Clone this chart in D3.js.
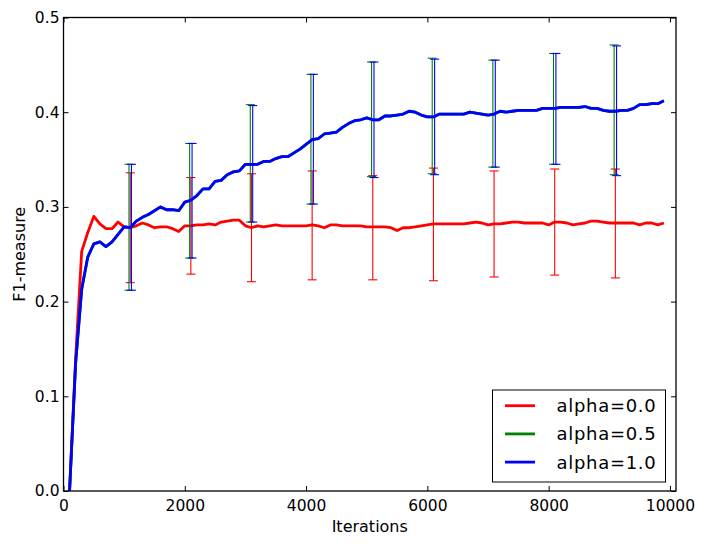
<!DOCTYPE html>
<html>
<head>
<meta charset="utf-8">
<script src="https://cdn.jsdelivr.net/npm/d3@7"></script>
<style>
  body { margin:0; background:#fff; }
  svg { display:block; font-family:"DejaVu Sans", sans-serif; }
</style>
</head>
<body>
<svg id="chart" width="706" height="546"></svg>
<script>
// sample grid: one point every 100 iterations
const iterations = d3.range(100, 10000, 100);

// mean F1 per iteration
const alpha00 = [
  0.000, 0.140, 0.253, 0.273, 0.290, 0.282, 0.277, 0.277, 0.284, 0.279,
  0.278, 0.280, 0.283, 0.281, 0.278, 0.279, 0.279, 0.277, 0.274, 0.280,
  0.280, 0.281, 0.281, 0.282, 0.281, 0.284, 0.285, 0.286, 0.286, 0.280,
  0.278, 0.280, 0.279, 0.280, 0.281, 0.280, 0.280, 0.280, 0.280, 0.280,
  0.281, 0.280, 0.278, 0.281, 0.281, 0.280, 0.280, 0.280, 0.280, 0.279,
  0.279, 0.279, 0.279, 0.278, 0.275, 0.278, 0.278, 0.279, 0.280, 0.281,
  0.282, 0.282, 0.282, 0.282, 0.282, 0.282, 0.283, 0.284, 0.283, 0.281,
  0.282, 0.282, 0.283, 0.284, 0.284, 0.283, 0.283, 0.283, 0.283, 0.281,
  0.284, 0.284, 0.283, 0.281, 0.282, 0.283, 0.285, 0.285, 0.284, 0.283,
  0.283, 0.283, 0.283, 0.283, 0.281, 0.283, 0.283, 0.281, 0.283
];
const alpha10 = [
  0.000, 0.135, 0.213, 0.247, 0.261, 0.263, 0.258, 0.263, 0.271, 0.279,
  0.278, 0.285, 0.289, 0.292, 0.296, 0.300, 0.297, 0.297, 0.296, 0.305,
  0.307, 0.312, 0.319, 0.319, 0.327, 0.328, 0.334, 0.337, 0.338, 0.345,
  0.345, 0.345, 0.348, 0.348, 0.351, 0.353, 0.353, 0.357, 0.361, 0.366,
  0.371, 0.372, 0.377, 0.378, 0.379, 0.384, 0.388, 0.391, 0.392, 0.394,
  0.392, 0.392, 0.396, 0.396, 0.397, 0.398, 0.401, 0.400, 0.397, 0.395,
  0.395, 0.398, 0.398, 0.398, 0.398, 0.398, 0.400, 0.399, 0.398, 0.397,
  0.398, 0.401, 0.400, 0.401, 0.402, 0.402, 0.402, 0.402, 0.404, 0.404,
  0.404, 0.405, 0.405, 0.405, 0.405, 0.406, 0.404, 0.404, 0.402, 0.401,
  0.401, 0.402, 0.402, 0.404, 0.408, 0.408, 0.409, 0.409, 0.412
];
// the green curve sits right under the blue one
const alpha05 = alpha10.slice();

// error bars, centred every 1000 iterations
const errIters = [1100, 2100, 3100, 4100, 5100, 6100, 7100, 8100, 9100];
const errLow00  = [0.220, 0.229, 0.221, 0.223, 0.223, 0.222, 0.226, 0.228, 0.225];
const errHigh00 = [0.336, 0.331, 0.335, 0.338, 0.333, 0.341, 0.338, 0.340, 0.340];
const errLow05  = [0.212, 0.246, 0.284, 0.303, 0.332, 0.335, 0.342, 0.345, 0.334];
const errHigh05 = [0.345, 0.367, 0.408, 0.440, 0.453, 0.457, 0.455, 0.462, 0.471];
const errLow10  = [0.212, 0.246, 0.284, 0.303, 0.331, 0.334, 0.342, 0.345, 0.333];
const errHigh10 = [0.345, 0.367, 0.407, 0.440, 0.453, 0.456, 0.455, 0.462, 0.470];

const xTicks = [0, 2000, 4000, 6000, 8000, 10000];
const yTicks = [0.0, 0.1, 0.2, 0.3, 0.4, 0.5];

const series = [
  { name:"alpha=0.0", color:"#ff0000", values:alpha00, lo:errLow00, hi:errHigh00, shift:0 },
  { name:"alpha=0.5", color:"#008000", values:alpha05, lo:errLow05, hi:errHigh05, shift:-20 },
  { name:"alpha=1.0", color:"#0000ff", values:alpha10, lo:errLow10, hi:errHigh10, shift:20 }
];

const L = 63.5, R = 676, T = 17.5, B = 491;

const x = d3.scaleLinear().domain([0, 10100]).range([L, R]);
const y = d3.scaleLinear().domain([0, 0.5]).range([B, T]);

const svg = d3.select('#chart');
svg.append('rect').attr('width', 706).attr('height', 546).attr('fill', '#fff');

const plot = svg.append('g');
const line = d3.line().x((d, i) => x(iterations[i])).y(d => y(d));

series.forEach(s => {
  plot.append('path')
    .datum(s.values)
    .attr('d', line)
    .attr('fill', 'none')
    .attr('stroke', s.color)
    .attr('stroke-width', 2.8)
    .attr('stroke-linejoin', 'round');

  const bars = plot.append('g')
    .selectAll('g')
    .data(errIters)
    .join('g')
      .attr('stroke', s.color)
      .attr('stroke-width', 1.1);

  bars.append('line')
    .attr('x1', d => x(d + s.shift)).attr('x2', d => x(d + s.shift))
    .attr('y1', (d, i) => y(s.lo[i])).attr('y2', (d, i) => y(s.hi[i]));
  bars.append('line')
    .attr('x1', d => x(d + s.shift) - 4.5).attr('x2', d => x(d + s.shift) + 4.5)
    .attr('y1', (d, i) => y(s.lo[i])).attr('y2', (d, i) => y(s.lo[i]));
  bars.append('line')
    .attr('x1', d => x(d + s.shift) - 4.5).attr('x2', d => x(d + s.shift) + 4.5)
    .attr('y1', (d, i) => y(s.hi[i])).attr('y2', (d, i) => y(s.hi[i]));
});

// axes, ticks pointing inward on all four sides
function styleAxis(g) {
  g.select('.domain').remove();
  g.selectAll('.tick line').attr('stroke', '#000').attr('stroke-width', 1);
  g.selectAll('.tick text').attr('fill', '#000').style('font-size', '15.5px')
    .style('font-family', '"DejaVu Sans", sans-serif');
}

svg.append('g').attr('transform', `translate(0,${B})`)
  .call(d3.axisBottom(x).tickValues(xTicks).tickFormat(d3.format('d'))
    .tickSizeInner(-5).tickSizeOuter(0).tickPadding(8.5))
  .call(styleAxis);
svg.append('g').attr('transform', `translate(0,${T})`)
  .call(d3.axisTop(x).tickValues(xTicks).tickFormat('')
    .tickSizeInner(-5).tickSizeOuter(0))
  .call(styleAxis);
svg.append('g').attr('transform', `translate(${L},0)`)
  .call(d3.axisLeft(y).tickValues(yTicks).tickFormat(d3.format('.1f'))
    .tickSizeInner(-5).tickSizeOuter(0).tickPadding(4))
  .call(styleAxis);
svg.append('g').attr('transform', `translate(${R},0)`)
  .call(d3.axisRight(y).tickValues(yTicks).tickFormat('')
    .tickSizeInner(-5).tickSizeOuter(0))
  .call(styleAxis);

svg.append('rect')
  .attr('x', L).attr('y', T).attr('width', R - L).attr('height', B - T)
  .attr('fill', 'none').attr('stroke', '#000').attr('stroke-width', 1.3);

svg.append('text')
  .attr('x', (L + R) / 2).attr('y', 532)
  .attr('text-anchor', 'middle').style('font-size', '16px')
  .text('Iterations');
svg.append('text')
  .attr('transform', `translate(25,${(T + B) / 2}) rotate(-90)`)
  .attr('text-anchor', 'middle').style('font-size', '16px')
  .text('F1-measure');

// legend
const legend = svg.append('g').attr('transform', 'translate(492.5,390)');
legend.append('rect')
  .attr('width', 173).attr('height', 92)
  .attr('fill', '#fff').attr('stroke', '#000').attr('stroke-width', 1);

const items = legend.selectAll('g.item')
  .data(series)
  .join('g')
    .attr('class', 'item')
    .attr('transform', (d, i) => `translate(0,${15.7 + i * 28.2})`);
items.append('line')
  .attr('x1', 12.5).attr('x2', 42.5)
  .attr('stroke', d => d.color).attr('stroke-width', 2.8);
items.append('text')
  .attr('x', 64).attr('dy', '0.36em')
  .style('font-size', '18px').style('letter-spacing', '0.7px')
  .text(d => d.name);
</script>
</body>
</html>
